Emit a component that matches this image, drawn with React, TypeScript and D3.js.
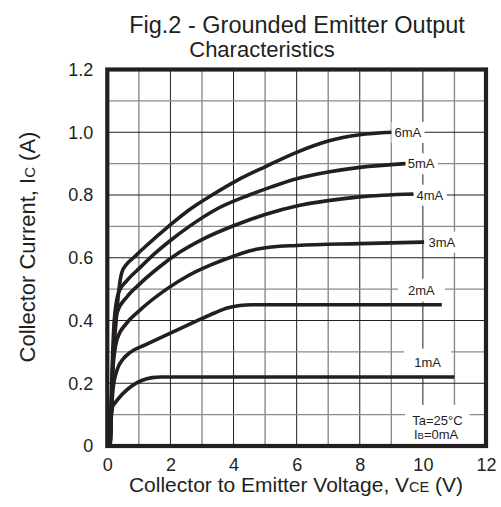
import React, { useEffect, useRef } from "react";
import * as d3 from "d3";

// values (Vce in V, Ic in A)
const curve1mA: [number, number][] = [[0.09, 0], [0.13, 0.1], [0.19, 0.13], [1.42, 0.218], [1.7, 0.22], [11, 0.22]];
const curve2mA: [number, number][] = [[0.09, 0], [0.13, 0.1], [0.18, 0.18], [0.3, 0.24], [0.5, 0.277], [0.75, 0.3], [1.2, 0.322], [2, 0.36], [2.8, 0.397], [3.4, 0.424], [3.8, 0.44], [4.2, 0.448], [4.6, 0.45], [10.6, 0.45]];
const curve3mA: [number, number][] = [[0.09, 0], [0.13, 0.12], [0.18, 0.25], [0.31, 0.34], [0.6, 0.39], [1, 0.43], [1.88, 0.5], [2.6, 0.545], [3.3, 0.578], [4, 0.605], [4.6, 0.624], [5.2, 0.634], [6, 0.639], [8, 0.645], [10.04, 0.65]];
const curve4mA: [number, number][] = [[0.09, 0], [0.14, 0.15], [0.2, 0.32], [0.31, 0.425], [0.62, 0.475], [1.02, 0.516], [1.63, 0.569], [2.3, 0.618], [3, 0.658], [4, 0.702], [5, 0.738], [6, 0.765], [7, 0.782], [8, 0.794], [9.7, 0.803]];
const curve5mA: [number, number][] = [[0.09, 0], [0.14, 0.2], [0.22, 0.4], [0.36, 0.49], [0.62, 0.527], [1.02, 0.567], [1.5, 0.613], [2, 0.655], [2.6, 0.7], [3.5, 0.757], [4.5, 0.8], [5.2, 0.826], [6, 0.852], [7, 0.873], [8, 0.888], [9.45, 0.9]];
const curve6mA: [number, number][] = [[0.09, 0], [0.15, 0.2], [0.28, 0.4], [0.37, 0.5], [0.46, 0.553], [0.62, 0.58], [0.83, 0.6], [1.2, 0.635], [1.94, 0.7], [2.6, 0.753], [3.32, 0.8], [4.1, 0.846], [5, 0.89], [6, 0.936], [7, 0.972], [8, 0.992], [9.0, 1.0]];

const xTicks = [0, 2, 4, 6, 8, 10, 12];
const yTicks = [0, 0.2, 0.4, 0.6, 0.8, 1.0, 1.2];

// curve labels: text, position in data units, anchor, white box padding
const labels = [
  { text: "6mA", x: 9.1, y: 1.0, anchor: "start", px: 3, py: 3 },
  { text: "5mA", x: 9.52, y: 0.9, anchor: "start", px: 3, py: 3 },
  { text: "4mA", x: 9.8, y: 0.8, anchor: "start", px: 3, py: 3 },
  { text: "3mA", x: 10.18, y: 0.65, anchor: "start", px: 3, py: 3 },
  { text: "2mA", x: 9.95, y: 0.497, anchor: "middle", px: 10, py: 4 },
  { text: "1mA", x: 10.15, y: 0.268, anchor: "middle", px: 10, py: 6 },
];

const W = 501;
const H = 507;
const ink = "#231f20";

export default function App() {
  const ref = useRef<SVGSVGElement>(null);

  useEffect(() => {
    const svg = d3.select(ref.current);
    svg.selectAll("*").remove();

    const x = d3.scaleLinear().domain([0, 12]).range([107.3, 486]);
    const y = d3.scaleLinear().domain([0, 1.2]).range([446, 69.5]);
    const font = "'Liberation Sans', Arial, sans-serif";

    svg.append("rect").attr("width", W).attr("height", H).attr("fill", "#fff");

    // grid: even volts / 0.2A lines darker, others grey
    const grid = svg.append("g");
    d3.range(1, 12).forEach(v => {
      grid.append("line")
        .attr("x1", x(v)).attr("x2", x(v)).attr("y1", y(0)).attr("y2", y(1.2))
        .attr("stroke", v % 2 === 0 ? ink : "#8c8a8a")
        .attr("stroke-width", v % 2 === 0 ? 1 : 1.4);
    });
    d3.range(1, 12).forEach(k => {
      grid.append("line")
        .attr("x1", x(0)).attr("x2", x(12)).attr("y1", y(k / 10)).attr("y2", y(k / 10))
        .attr("stroke", k % 2 === 0 ? ink : "#8c8a8a")
        .attr("stroke-width", k % 2 === 0 ? 1 : 1.4);
    });

    // labels with white background boxes that break the grid
    const lab = svg.append("g").style("font-family", font).style("font-size", "13px").attr("fill", ink);
    labels.forEach(l => {
      const g = lab.append("g");
      const r = g.append("rect").attr("fill", "#fff");
      const t = g.append("text")
        .attr("x", x(l.x)).attr("y", y(l.y))
        .attr("dy", "0.36em")
        .attr("text-anchor", l.anchor)
        .text(l.text);
      const b = (t.node() as SVGTextElement).getBBox();
      r.attr("x", b.x - l.px).attr("y", b.y - l.py)
        .attr("width", b.width + 2 * l.px).attr("height", b.height + 2 * l.py);
    });

    // conditions box
    const cond = lab.append("g");
    const cr = cond.append("rect").attr("fill", "#fff");
    const ct = cond.append("text").attr("text-anchor", "middle");
    ct.append("tspan").attr("x", x(10.46)).attr("y", y(0.082)).attr("dy", "0.36em").text("Ta=25°C");
    const ib = ct.append("tspan").attr("x", x(10.42)).attr("y", y(0.037)).attr("dy", "0.36em");
    ib.append("tspan").text("I");
    ib.append("tspan").style("font-size", "9.5px").text("B");
    ib.append("tspan").text("=0mA");
    const cb = (ct.node() as SVGTextElement).getBBox();
    cr.attr("x", cb.x - 7).attr("y", cb.y - 8).attr("width", cb.width + 14).attr("height", y(0) - cb.y + 8);

    // characteristic curves
    const line = d3.line<[number, number]>()
      .x(d => x(d[0]))
      .y(d => y(d[1]))
      .curve(d3.curveMonotoneX);
    [curve1mA, curve2mA, curve3mA, curve4mA, curve5mA, curve6mA].forEach(c => {
      svg.append("path")
        .attr("d", line(c))
        .attr("fill", "none")
        .attr("stroke", ink)
        .attr("stroke-width", 3.6)
        .attr("stroke-linejoin", "round");
    });

    // frame
    svg.append("rect")
      .attr("x", x(0)).attr("y", y(1.2))
      .attr("width", x(12) - x(0)).attr("height", y(0) - y(1.2))
      .attr("fill", "none").attr("stroke", ink).attr("stroke-width", 4.2);

    // axes
    const yAxis = svg.append("g")
      .attr("transform", `translate(${x(0) - 4},0)`)
      .call(d3.axisLeft(y).tickValues(yTicks).tickSize(0).tickPadding(10)
        .tickFormat(d => (+d === 0 ? "0" : d3.format(".1f")(+d))));
    yAxis.select(".domain").remove();
    yAxis.selectAll("text").style("font-family", font).style("font-size", "18px").attr("fill", ink);

    const xAxis = svg.append("g")
      .attr("transform", `translate(0,${y(0) + 4})`)
      .call(d3.axisBottom(x).tickValues(xTicks).tickSize(0).tickPadding(8).tickFormat(d3.format("d")));
    xAxis.select(".domain").remove();
    xAxis.selectAll("text").style("font-family", font).style("font-size", "18px").attr("fill", ink);

    // titles
    const tg = svg.append("g").style("font-family", font).attr("fill", ink).attr("text-anchor", "middle");
    tg.append("text").attr("x", 297).attr("y", 33).style("font-size", "23.5px").text("Fig.2 - Grounded Emitter Output");
    tg.append("text").attr("x", 262).attr("y", 57).style("font-size", "22px").text("Characteristics");

    const xl = tg.append("text").attr("x", 296).attr("y", 492).style("font-size", "21px");
    xl.append("tspan").text("Collector to Emitter Voltage, V");
    xl.append("tspan").style("font-size", "14.5px").text("CE");
    xl.append("tspan").text(" (V)");

    const yl = tg.append("text").attr("transform", `translate(35,247) rotate(-90)`).style("font-size", "22px");
    yl.append("tspan").text("Collector Current, I");
    yl.append("tspan").style("font-size", "15px").text("C");
    yl.append("tspan").text(" (A)");
  }, []);

  return (
    <svg
      ref={ref}
      width={W}
      height={H}
      style={{ position: "absolute", left: 0, top: 0 }}
    />
  );
}
